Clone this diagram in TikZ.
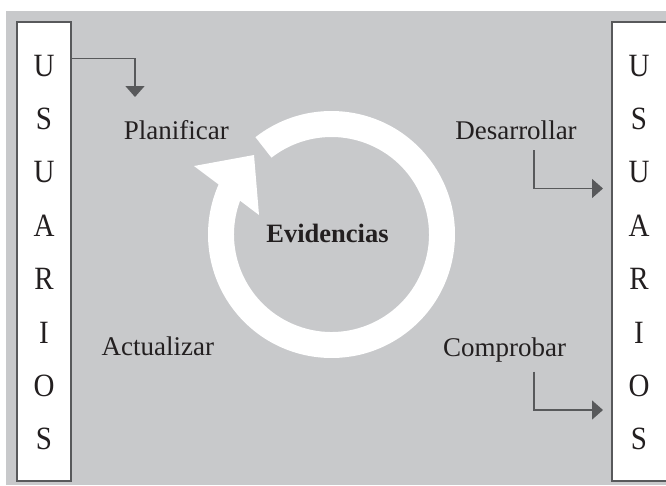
\documentclass[tikz,border=0pt]{standalone}
\usepackage{fontspec}
\setmainfont{Liberation Serif}
\usetikzlibrary{arrows.meta}
\definecolor{bg}{RGB}{200,201,203}
\definecolor{dk}{RGB}{88,89,91}
\definecolor{txt}{RGB}{35,31,32}
\tikzset{
  ubox/.style={draw=dk, line width=1.5pt, fill=white},
  uletter/.style={anchor=base, inner sep=0pt, text=txt, font=\fontsize{29}{29}\selectfont},
  lbl/.style={anchor=base, inner sep=0pt, text=txt, font=\fontsize{27}{27}\selectfont},
  arr/.style={draw=dk, line width=1.5pt, -{Triangle[length=11pt,width=19pt]}}
}
\begin{document}
\begin{tikzpicture}[x=1pt,y=-1pt]
\useasboundingbox (0,0) rectangle (666,485);
\fill[bg] (6,11) rectangle (672,485);
% user boxes
\draw[ubox] (17,22) rectangle (71,481);
\draw[ubox] (612,22) rectangle (668,481);
\coordinate (L) at (71,58.3);
\coordinate (R) at (612,188.5);
\foreach \ch [count=\i from 0] in {U,S,U,A,R,I,O,S}{
  \node[uletter] (l\i) at (44,76+53.4*\i) {\scalebox{1}[1.12]{\ch}};
  \node[uletter] (r\i) at (639,76+53.4*\i) {\scalebox{1}[1.12]{\ch}};
}
% labels
\node[lbl] (plan) at (176.4,139.3) {Planificar};
\node[lbl] (act) at (157.9,355) {Actualizar};
\node[lbl] (des) at (516,139.3) {Desarrollar};
\node[lbl] (com) at (504.5,356) {Comprobar};
\node[lbl, font=\fontsize{26.5}{26.5}\selectfont\bfseries] (ev) at (327.5,242.7) {Evidencias};
% cycle ring
\coordinate (c) at (331.5,234.5);
\fill[white] ([shift={(331.5,234.5)}]-128:123.5) arc[start angle=-128, end angle=203.9, radius=123.5]
  -- (194,166) -- (254,155) -- (259,215)
  -- ([shift={(331.5,234.5)}]200.3:97.5) arc[start angle=200.3, end angle=-128, radius=97.5] -- cycle;
% arrows
\coordinate (t1) at (135,97);
\draw[arr] (L) -| (t1);
\coordinate (s2) at (534,150);
\coordinate (t2) at (603,188.5);
\draw[arr] (s2) |- (t2);
\coordinate (s3) at (534,371.7);
\coordinate (t3) at (603,410);
\draw[arr] (s3) |- (t3);
\end{tikzpicture}
\end{document}
